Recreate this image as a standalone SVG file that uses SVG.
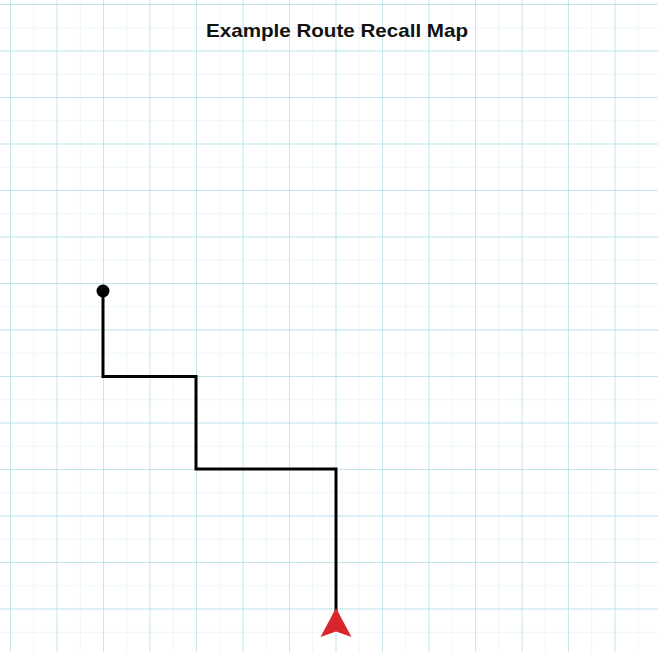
<svg xmlns="http://www.w3.org/2000/svg" width="658" height="652" viewBox="0 0 658 652">
<defs>
<pattern id="minor" x="10" y="4" width="23.25" height="23.25" patternUnits="userSpaceOnUse">
<path d="M0 0V23.25M0 0H23.25" fill="none" stroke="#d9eff4" stroke-width="1"/>
</pattern>
<pattern id="major" x="10" y="4" width="46.5" height="46.5" patternUnits="userSpaceOnUse">
<path d="M0 0V46.5M0 0H46.5" fill="none" stroke="#b2dfe9" stroke-width="1.3"/>
</pattern>
</defs>
<style>
.title{font-family:"Liberation Sans",Arial,sans-serif;font-weight:bold;font-size:18.5px;fill:#111}
.route{fill:none;stroke:#000;stroke-width:3;stroke-linejoin:miter}
</style>
<rect width="658" height="652" fill="#fff"/>
<rect width="658" height="652" fill="url(#minor)"/>
<rect width="658" height="652" fill="url(#major)"/>
<text class="title" x="337" y="37" text-anchor="middle" textLength="262" lengthAdjust="spacingAndGlyphs">Example Route Recall Map</text>
<g id="connectors">
<path class="route" d="M103 291V376.5H196V469H336V616"/>
</g>
<g id="start">
<circle cx="103" cy="291" r="6.5" fill="#000"/>
</g>
<g id="end">
<path d="M336 608L351.5 637L336 631.5L320.5 637Z" fill="#d8262b"/>
</g>
</svg>
